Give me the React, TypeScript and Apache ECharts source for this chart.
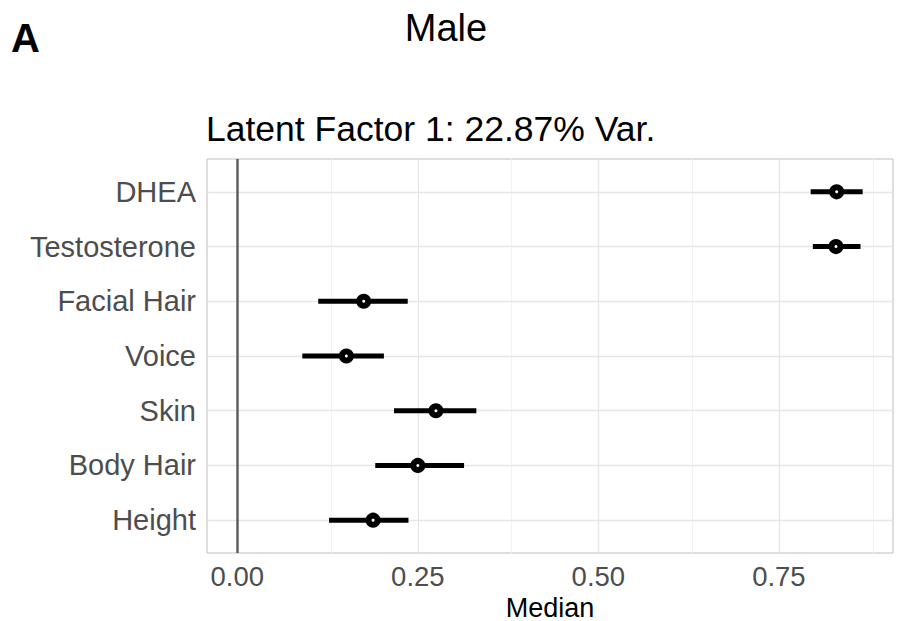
import React, { useEffect, useRef } from "react";
import * as echarts from "echarts";

const categories = ["DHEA", "Testosterone", "Facial Hair", "Voice", "Skin", "Body Hair", "Height"];
const medians = [0.83, 0.829, 0.175, 0.151, 0.275, 0.25, 0.188];
const lows = [0.794, 0.797, 0.112, 0.09, 0.217, 0.191, 0.127];
const highs = [0.866, 0.863, 0.236, 0.203, 0.331, 0.314, 0.237];
const xTicks = [0, 0.25, 0.5, 0.75];
const xMinor = [0.125, 0.375, 0.625, 0.875];
const FONT = "'Liberation Sans', Arial, Helvetica, sans-serif";

export default function App() {
  const ref = useRef<HTMLDivElement>(null);
  useEffect(() => {
    if (!ref.current) return;
    const chart = echarts.init(ref.current, null, { renderer: "svg" });
    const yIdx = categories.map((_, i) => i);
    const data = categories.map((c, i) => [i, medians[i], lows[i], highs[i]]);
    const option: any = {
      animation: false,
      backgroundColor: "#ffffff",
      textStyle: { fontFamily: FONT },
      grid: {
        left: 207,
        top: 159,
        right: 4,
        bottom: 68,
        outerBoundsMode: "none",
        containLabel: false,
        show: true,
        borderColor: "#bdbdbd",
        borderWidth: 1,
        backgroundColor: "#ffffff",
      },
      graphic: [
        { type: "text", x: 11, y: 38, style: { text: "A", fontSize: 40, fontWeight: "bold", fill: "#000", fontFamily: FONT, verticalAlign: "middle" } },
        { type: "text", x: 446, y: 28, style: { text: "Male", fontSize: 38, fill: "#000", fontFamily: FONT, align: "center", verticalAlign: "middle" } },
        { type: "text", x: 206, y: 129, style: { text: "Latent Factor 1: 22.87% Var.", fontSize: 35.5, fill: "#000", fontFamily: FONT, verticalAlign: "middle" } },
      ],
      xAxis: {
        type: "value",
        min: -0.042,
        max: 0.908,
        axisLine: { show: false },
        splitLine: { show: false },
        axisTick: { show: true, customValues: xTicks, length: 4, lineStyle: { color: "#b3b3b3" } },
        axisLabel: {
          customValues: xTicks,
          formatter: (v: number) => v.toFixed(2),
          color: "#4d4d4d",
          fontSize: 27.5,
          margin: 9,
          fontFamily: FONT,
        },
        name: "Median",
        nameLocation: "middle",
        nameGap: 35,
        nameTextStyle: { color: "#000", fontSize: 27, lineHeight: 27, fontFamily: FONT },
      },
      yAxis: {
        type: "value",
        inverse: true,
        min: -0.6,
        max: 6.6,
        axisLine: { show: false },
        splitLine: { show: false },
        axisTick: { show: true, customValues: yIdx, length: 4, lineStyle: { color: "#b3b3b3" } },
        axisLabel: {
          customValues: yIdx,
          formatter: (v: number) => categories[Math.round(v)] ?? "",
          color: "#4d4d4d",
          fontSize: 29,
          margin: 11,
          fontFamily: FONT,
        },
      },
      series: [
        {
          type: "line",
          data: [],
          z: 1,
          silent: true,
          markLine: {
            silent: true,
            symbol: "none",
            label: { show: false },
            data: [
              ...xMinor.map((v) => ({ xAxis: v, lineStyle: { color: "#f2f2f2", width: 1, type: "solid" } })),
              ...xTicks.slice(1).map((v) => ({ xAxis: v, lineStyle: { color: "#e6e6e6", width: 1.3, type: "solid" } })),
              ...yIdx.map((v) => ({ yAxis: v, lineStyle: { color: "#e6e6e6", width: 1.3, type: "solid" } })),
              { xAxis: 0, lineStyle: { color: "#5f5f5f", width: 2.5, type: "solid" } },
            ],
          },
        },
        {
          type: "custom",
          z: 5,
          data,
          encode: { x: [1, 2, 3], y: 0 },
          renderItem: (params: any, api: any) => {
            const y = api.value(0);
            const m = api.coord([api.value(1), y]);
            const lo = api.coord([api.value(2), y]);
            const hi = api.coord([api.value(3), y]);
            return {
              type: "group",
              children: [
                { type: "line", shape: { x1: lo[0], y1: lo[1], x2: hi[0], y2: hi[1] }, style: { stroke: "#000", lineWidth: 5 } },
                { type: "circle", shape: { cx: m[0], cy: m[1], r: 4.5 }, style: { fill: "#ffffff", stroke: "#000", lineWidth: 6 } },
              ],
            };
          },
        },
      ],
    };
    chart.setOption(option);
    return () => chart.dispose();
  }, []);
  return (
    <div
      ref={ref}
      style={{ position: "absolute", left: 0, top: 0, width: 897, height: 621 }}
    />
  );
}
